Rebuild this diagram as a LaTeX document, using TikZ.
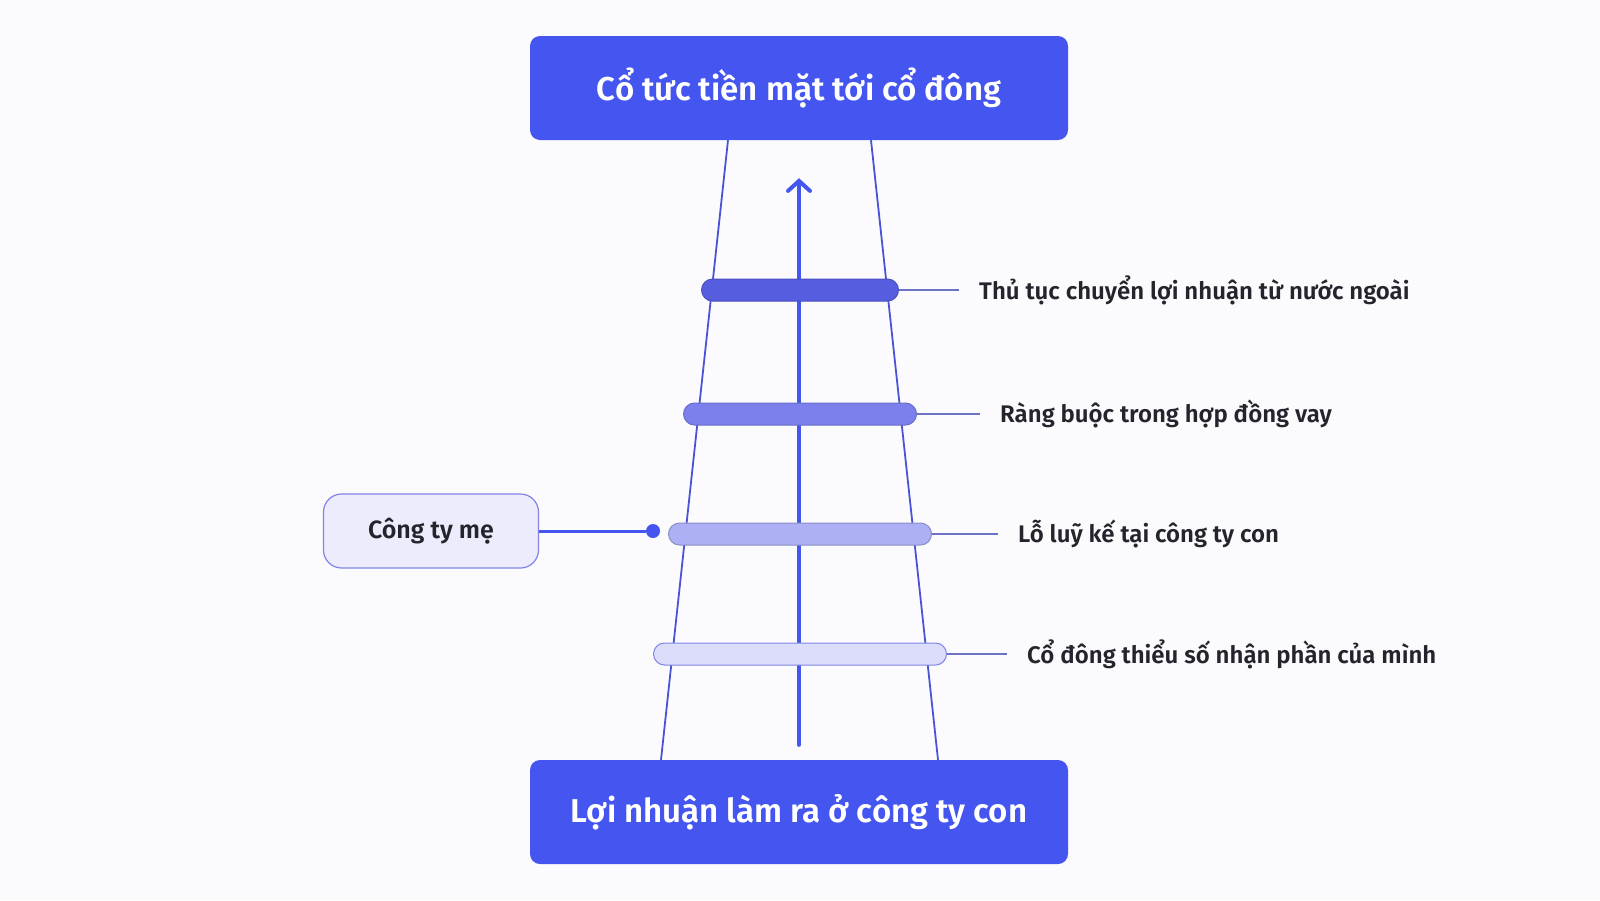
\documentclass[tikz,border=0pt]{standalone}
\usepackage{fontspec}
\setmainfont{Fira Sans}[BoldFont={Fira Sans SemiBold}]
\usetikzlibrary{arrows.meta}
\definecolor{bgcol}{HTML}{FBFBFE}
\definecolor{mainblue}{HTML}{4556F0}
\definecolor{legblue}{HTML}{4A53D6}
\definecolor{linkgray}{HTML}{6E72C4}
\definecolor{textdark}{HTML}{24242C}
\definecolor{barA}{HTML}{575DDF}
\definecolor{barB}{HTML}{7B80EC}
\definecolor{barC}{HTML}{ADB0F4}
\definecolor{barD}{HTML}{DCDDFB}
\definecolor{parentfill}{HTML}{ECECFC}
\definecolor{parentline}{HTML}{7F84E6}

\begin{document}
\begin{tikzpicture}[x=1pt,y=-1pt,
  box/.style={fill=mainblue, rounded corners=10pt, minimum width=538pt, minimum height=104pt,
    text=white, font=\fontsize{33}{38}\selectfont\bfseries},
  bar/.style={rounded corners=11pt, minimum height=22pt, inner sep=0pt, line width=1pt},
  lab/.style={anchor=west, inner sep=0pt, text=textdark, font=\fontsize{24}{28}\selectfont\bfseries},
  leg/.style={draw=legblue, line width=1.8pt},
  link/.style={draw=linkgray, line width=1.2pt}]
  % background and frame
  \fill[bgcol] (0,0) rectangle (1600,900);
  \useasboundingbox (0,0) rectangle (1600,900);
  % top and bottom boxes
  \node[box] (top) at (799,88) {Cổ tức tiền mặt tới cổ đông};
  \node[box] (base) at (799,812) {Lợi nhuận làm ra ở công ty con};
  % legs of the channel
  \draw[leg] ([xshift=-71pt]top.south) -- ([xshift=-138pt]base.north);
  \draw[leg] ([xshift=72pt]top.south) -- ([xshift=139pt]base.north);
  % flow arrow
  \draw[mainblue, line width=4pt, line cap=round, -{Straight Barb[length=10pt,width=22pt,line cap=round]}]
    ([yshift=15pt]base.north) -- ([yshift=-38pt]top.south);
  % bars
  \node[bar, fill=barA, draw=barA!85!black, minimum width=197pt] (b1) at (800,290) {};
  \node[bar, fill=barB, draw=barB!85!black, minimum width=233pt] (b2) at (800,414) {};
  \node[bar, fill=barC, draw=barC!80!black, minimum width=263pt] (b3) at (800,534) {};
  \node[bar, fill=barD, draw=parentline, minimum width=293pt] (b4) at (800,654) {};
  % labels
  \node[lab] (t1) at (979,290) {Thủ tục chuyển lợi nhuận từ nước ngoài};
  \node[lab] (t2) at (1000,414) {Ràng buộc trong hợp đồng vay};
  \node[lab] (t3) at (1018,534) {Lỗ luỹ kế tại công ty con};
  \node[lab] (t4) at (1027,654) {Cổ đông thiểu số nhận phần của mình};
  \draw[link] (b1.east) -- ([xshift=-20pt]t1.west);
  \draw[link] (b2.east) -- ([xshift=-20pt]t2.west);
  \draw[link] (b3.east) -- ([xshift=-20pt]t3.west);
  \draw[link] (b4.east) -- ([xshift=-20pt]t4.west);
  % parent company
  \node[fill=parentfill, draw=parentline, line width=1.2pt, rounded corners=18pt,
    minimum width=215pt, minimum height=74pt, text=textdark,
    font=\fontsize{25}{29}\selectfont\bfseries] (parent) at (431,531) {Công ty mẹ};
  \node[circle, fill=mainblue, inner sep=0pt, minimum size=14pt] (pin) at (653,531) {};
  \draw[mainblue, line width=3pt] (parent) -- (pin);
\end{tikzpicture}
\end{document}
